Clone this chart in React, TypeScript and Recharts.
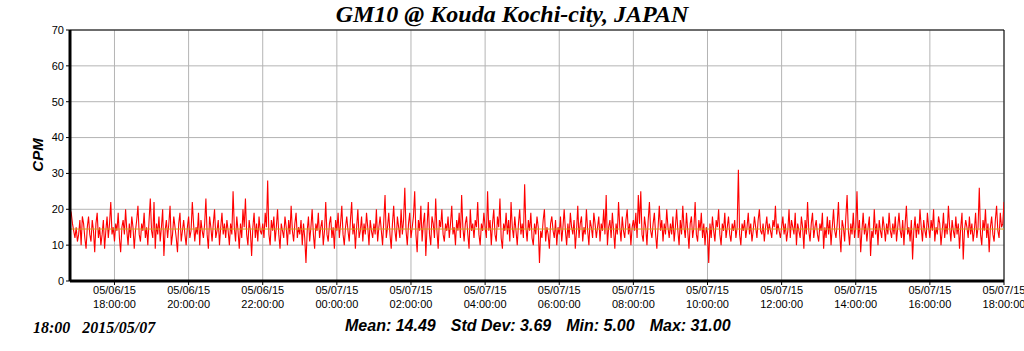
import React from 'react';
import { LineChart, Line, XAxis, YAxis, CartesianGrid, ReferenceLine } from 'recharts';

// minutes relative to 05/06/15 18:00:00, one reading every 2 minutes
const startMin = -72;
const stepMin = 2;

// CPM readings, 16:48 on 05/06 through 18:00 on 05/07
const cpm: number[] = [
  // 16:48 - 17:58
  20, 19, 16, 14, 12, 15, 11, 13, 17, 10, 18, 16, 12, 9, 15, 18, 13, 11, 17, 14, 8, 16, 19, 12, 15, 10, 13, 17, 9, 14, 18, 12, 16, 22, 13, 15,
  // 18:00
  11, 16, 14, 19, 12, 8, 15, 17, 13, 20, 14, 10, 16, 12, 18, 15, 9, 14, 17, 21, 13, 11, 16, 14, 19, 12, 15, 10, 17, 23,
  // 19:00
  14, 12, 22, 9, 16, 13, 18, 11, 15, 20, 7, 14, 17, 12, 16, 21, 10, 13, 18, 15, 12, 8, 16, 19, 11, 14, 17, 13, 10, 15,
  // 20:00
  18, 12, 14, 22, 16, 11, 15, 13, 19, 10, 17, 14, 12, 16, 23, 13, 9, 18, 15, 11, 16, 20, 12, 14, 17, 10, 15, 19, 13, 16,
  // 21:00
  12, 17, 14, 10, 16, 13, 25, 15, 11, 18, 14, 9, 16, 12, 20, 15, 23, 13, 10, 17, 14, 7, 15, 19, 12, 16, 11, 18, 14, 13,
  // 22:00
  16, 12, 19, 15, 28, 13, 10, 17, 14, 18, 11, 15, 20, 13, 9, 16, 14, 12, 18, 15, 10, 17, 13, 21, 14, 11, 16, 19, 12, 15,
  // 23:00
  13, 17, 10, 16, 12, 5, 14, 18, 11, 15, 20, 13, 9, 16, 14, 19, 12, 15, 17, 10, 14, 22, 13, 11, 16, 18, 12, 15, 9, 17,
  // 00:00
  14, 19, 12, 16, 21, 13, 10, 15, 18, 14, 11, 17, 22, 13, 16, 9, 15, 20, 12, 14, 18, 11, 16, 13, 19, 15, 10, 17, 14, 12,
  // 01:00
  16, 13, 20, 11, 15, 18, 14, 10, 17, 24, 12, 15, 19, 13, 9, 16, 21, 14, 11, 18, 15, 12, 20, 13, 17, 26, 14, 10, 16, 19,
  // 02:00
  12, 15, 18, 25, 13, 8, 17, 14, 21, 11, 16, 19, 7, 15, 22, 13, 10, 18, 16, 12, 23, 14, 9, 17, 15, 20, 13, 11, 16, 14,
  // 03:00
  18, 12, 16, 21, 13, 15, 10, 17, 14, 19, 12, 24, 15, 11, 16, 18, 13, 9, 20, 14, 16, 12, 17, 15, 22, 13, 10, 16, 14, 19,
  // 04:00
  15, 12, 25, 14, 17, 10, 16, 20, 13, 11, 18, 15, 23, 12, 9, 16, 14, 19, 13, 17, 11, 22, 15, 12, 18, 14, 10, 16, 20, 13,
  // 05:00
  16, 12, 27, 15, 11, 17, 14, 19, 12, 10, 16, 13, 18, 15, 5, 14, 12, 17, 20, 11, 15, 13, 9, 16, 18, 14, 12, 17, 10, 15,
  // 06:00
  13, 18, 11, 15, 20, 14, 10, 16, 12, 19, 15, 13, 17, 9, 14, 21, 12, 16, 18, 11, 15, 13, 20, 14, 10, 17, 15, 12, 19, 16,
  // 07:00
  12, 15, 18, 11, 16, 14, 20, 13, 24, 10, 15, 17, 12, 19, 14, 9, 16, 13, 22, 15, 11, 18, 14, 12, 17, 20, 13, 16, 10, 15,
  // 08:00
  17, 14, 19, 12, 24, 16, 25, 13, 11, 18, 15, 10, 17, 22, 14, 12, 16, 19, 13, 9, 15, 21, 14, 17, 11, 16, 13, 20, 15, 12,
  // 09:00
  16, 13, 18, 11, 15, 20, 14, 10, 17, 13, 21, 15, 12, 19, 14, 9, 16, 18, 12, 15, 22, 13, 11, 17, 14, 19, 12, 16, 10, 15,
  // 10:00
  13, 5, 16, 12, 18, 14, 11, 17, 15, 20, 13, 10, 16, 14, 19, 12, 15, 18, 13, 11, 16, 14, 17, 12, 15, 31, 13, 10, 16, 14,
  // 11:00
  17, 12, 15, 19, 13, 16, 11, 14, 18, 15, 12, 17, 20, 14, 13, 16, 11, 15, 18, 13, 16, 14, 12, 17, 15, 21, 13, 16, 14, 12,
  // 12:00
  15, 18, 13, 16, 11, 14, 20, 12, 17, 15, 13, 19, 10, 16, 14, 12, 18, 15, 9, 17, 13, 22, 14, 11, 16, 19, 12, 15, 17, 13,
  // 13:00
  11, 16, 14, 19, 9, 15, 12, 18, 13, 17, 10, 15, 20, 14, 12, 16, 22, 13, 8, 17, 15, 11, 18, 24, 14, 10, 16, 13, 19, 12,
  // 14:00
  15, 25, 12, 17, 8, 14, 19, 13, 16, 11, 15, 18, 7, 14, 12, 20, 13, 16, 10, 17, 14, 12, 18, 15, 11, 16, 13, 19, 14, 12,
  // 15:00
  16, 13, 18, 11, 15, 19, 14, 12, 17, 10, 16, 21, 13, 15, 11, 17, 6, 14, 18, 12, 16, 13, 20, 15, 11, 17, 14, 12, 19, 15,
  // 16:00
  12, 17, 14, 20, 11, 15, 13, 18, 16, 10, 14, 19, 12, 16, 13, 21, 15, 11, 17, 14, 12, 18, 13, 16, 9, 15, 19, 6, 14, 17,
  // 17:00
  15, 12, 18, 13, 16, 11, 14, 19, 12, 15, 26, 13, 10, 17, 14, 20, 12, 16, 8, 15, 18, 13, 11, 17, 21, 14, 12, 19, 15, 16,
  // 18:00
  22,
];

const xTicks = [0, 120, 240, 360, 480, 600, 720, 840, 960, 1080, 1200, 1320, 1440];
const yTicks = [0, 10, 20, 30, 40, 50, 60, 70];

const meanCpm = 14.49;
const stats = ['Mean: 14.49', 'Std Dev: 3.69', 'Min: 5.00', 'Max: 31.00'];

const data = cpm.map((v, i) => ({ t: startMin + i * stepMin, cpm: v }));

const TimeTick = (props: any) => {
  const { x, y, payload } = props;
  const t = payload.value as number;
  const day = t < 360 ? '05/06/15' : '05/07/15';
  const hour = (18 + Math.floor(t / 60)) % 24;
  const hh = hour < 10 ? '0' + hour : '' + hour;
  return (
    <g>
      <text x={x} y={y + 9} textAnchor="middle" fontSize={11} fill="#000" fontFamily="'Liberation Sans', Arial, sans-serif">
        {day}
      </text>
      <text x={x} y={y + 23} textAnchor="middle" fontSize={11} fill="#000" fontFamily="'Liberation Sans', Arial, sans-serif">
        {hh + ':00:00'}
      </text>
    </g>
  );
};

export default function App() {
  return (
    <div style={{ position: 'absolute', left: 0, top: 0, width: 1024, height: 351, background: '#fff' }}>
      <div
        style={{
          position: 'absolute', left: 0, top: 1, width: 1024, textAlign: 'center',
          fontFamily: "'Liberation Serif', 'Times New Roman', serif", fontWeight: 'bold', fontStyle: 'italic', fontSize: 24,
        }}
      >
        GM10 @ Kouda Kochi-city, JAPAN
      </div>

      <div
        style={{
          position: 'absolute', left: 37, top: 155, transform: 'translate(-50%, -50%) rotate(-90deg)',
          fontFamily: "'Liberation Sans', Arial, sans-serif", fontWeight: 'bold', fontStyle: 'italic', fontSize: 15,
        }}
      >
        CPM
      </div>

      <LineChart width={1024} height={351} data={data} margin={{ top: 30, right: 20, bottom: 30, left: 0 }}>
        <CartesianGrid stroke="#b4b4b4" strokeWidth={1} />
        <XAxis
          dataKey="t"
          type="number"
          domain={[-72, 1440]}
          ticks={xTicks}
          allowDataOverflow
          height={40}
          tick={<TimeTick />}
          tickSize={4}
          tickMargin={0}
          tickLine={{ stroke: '#000' }}
          axisLine={{ stroke: '#000', strokeWidth: 3 }}
          interval={0}
        />
        <YAxis
          type="number"
          domain={[0, 70]}
          ticks={yTicks}
          width={70}
          tickSize={4}
          tickMargin={2}
          tick={{ fontSize: 11, fill: '#000', fontFamily: "'Liberation Sans', Arial, sans-serif" }}
          tickLine={{ stroke: '#000' }}
          axisLine={{ stroke: '#000', strokeWidth: 3 }}
          interval={0}
        />
        <ReferenceLine y={70} stroke="#000" strokeWidth={1} />
        <ReferenceLine x={1440} stroke="#000" strokeWidth={1} />
        <Line
          dataKey="cpm"
          type="linear"
          stroke="#ff0000"
          strokeWidth={1.1}
          dot={false}
          activeDot={false}
          isAnimationActive={false}
        />
        <ReferenceLine y={meanCpm} stroke="#d2a020" strokeWidth={1} />
      </LineChart>

      <div
        style={{
          position: 'absolute', left: 33, top: 319, whiteSpace: 'pre',
          fontFamily: "'Liberation Serif', 'Times New Roman', serif", fontWeight: 'bold', fontStyle: 'italic', fontSize: 16,
        }}
      >
        {'18:00   2015/05/07'}
      </div>

      <div
        style={{
          position: 'absolute', left: 345, top: 317, whiteSpace: 'pre',
          fontFamily: "'Liberation Sans', Arial, sans-serif", fontWeight: 'bold', fontStyle: 'italic', fontSize: 16,
        }}
      >
        {stats.map((s, i) => (
          <span key={i} style={{ marginRight: 15 }}>{s}</span>
        ))}
      </div>
    </div>
  );
}
